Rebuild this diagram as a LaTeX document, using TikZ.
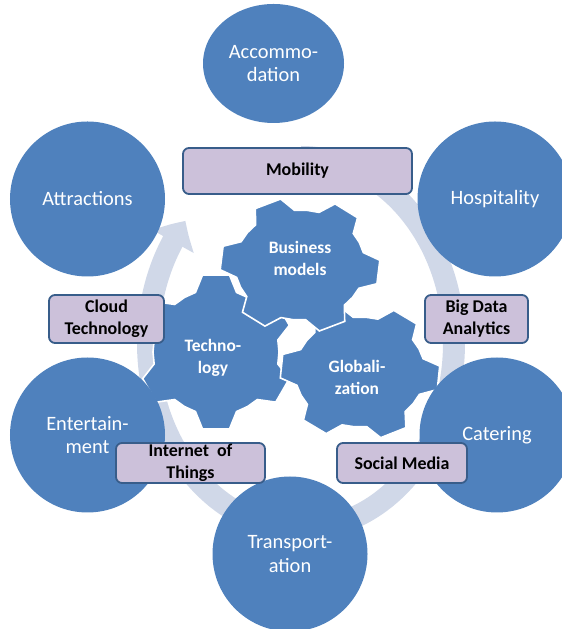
\documentclass[tikz,border=0pt]{standalone}
\usepackage{fontspec}
\setmainfont{Carlito}
\usepackage{tikz}
\usetikzlibrary{arrows.meta,bending,shapes.geometric}
\usepackage{xcolor}
\definecolor{accblue}{HTML}{4F81BD}
\definecolor{ringgrey}{HTML}{D0D8E8}
\definecolor{taglilac}{HTML}{CCC1DA}
\definecolor{tagedge}{HTML}{385D8A}

\begin{document}
\begin{tikzpicture}[x=1bp,y=1bp,
   bubble/.style={circle,fill=accblue,text=white,minimum size=155bp,inner sep=0pt,align=center,
                  font=\fontsize{20.5}{23.5}\selectfont},
   tag/.style={draw=tagedge,line width=1.8bp,fill=taglilac,rounded corners=6bp,inner sep=0pt,
               align=center,font=\fontsize{18}{22}\selectfont\bfseries},
   gear/.style={fill=accblue,draw=white,line width=1.6bp,line join=miter},
   glabel/.style={text=white,align=center,font=\fontsize{17.5}{22}\selectfont\bfseries}]
  \useasboundingbox (0,0) rectangle (562,629);
  \draw[ringgrey,line width=22bp,-{Triangle[width=46bp,length=24bp,bend]}]
       (301,472) arc[start angle=90,end angle=-221,x radius=153,y radius=186];
  \foreach \gx/\gy/\rot/\rx/\ry/\ix/\iy in {216/277/30/78/78/63/63,
                                              360/257/-5/80/68/65/55,
                                              300/364/-6/80/68/65/55}
    \filldraw[gear,shift={(\gx,\gy)}] (\rot+19:\ix bp and \iy bp)
      \foreach \k in {1,...,6} {
        -- (\rot+60*\k-30:\ix bp and \iy bp) -- (\rot+60*\k-19:\ix bp and \iy bp)
        -- (\rot+60*\k-10:\rx bp and \ry bp) -- (\rot+60*\k+10:\rx bp and \ry bp)
        -- (\rot+60*\k+19:\ix bp and \iy bp)} -- cycle;
  \node[glabel] (techl) at (213,271) {Techno-\\logy};
  \node[glabel] (globl) at (357,252) {Globali-\\zation};
  \node[glabel] (busl) at (300,371) {Business\\models};
  \node[bubble,ellipse,minimum width=141bp,minimum height=119bp] (acc) at (273.5,565.5) {Accommo-\\dation};
  \node[bubble] (attr) at (87.5,430) {Attractions};
  \node[bubble] (hosp) at (495,430) {Hospitality};
  \node[bubble] (ent) at (87.5,194) {Entertain-\\ment};
  \node[bubble] (cat) at (497,194) {Catering};
  \node[bubble] (trans) at (290,75) {Transport-\\ation};
  \node[tag,minimum width=229bp,minimum height=46bp] (mob) at (297.5,458) {Mobility};
  \node[tag,minimum width=115bp,minimum height=48bp] (cloud) at (106.5,310) {Cloud\\Technology};
  \node[tag,minimum width=103bp,minimum height=48bp] (bigdata) at (476.5,310) {Big Data\\Analytics};
  \node[tag,minimum width=149bp,minimum height=40bp] (iot) at (190.5,166) {Internet\ \ of\\Things};
  \node[tag,minimum width=130bp,minimum height=40bp] (social) at (402,166) {Social Media};
\end{tikzpicture}
\end{document}
